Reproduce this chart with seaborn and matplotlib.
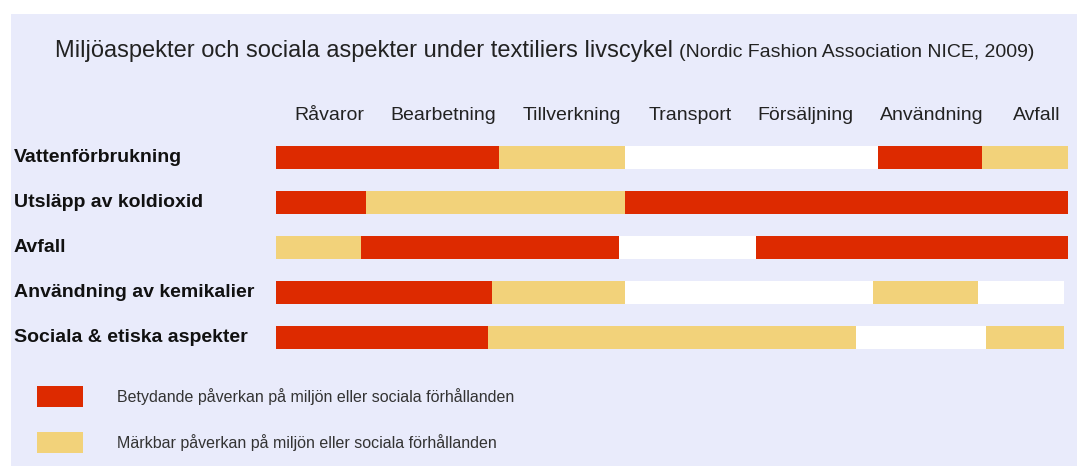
import matplotlib
matplotlib.use("Agg")
import matplotlib.pyplot as plt
from matplotlib.patches import Patch, Rectangle
import matplotlib.transforms as mtransforms
import pandas as pd
import seaborn as sns

# ---------------- data ----------------
categories = ["Vattenförbrukning", "Utsläpp av koldioxid", "Avfall",
              "Användning av kemikalier", "Sociala & etiska aspekter"]
stages = ["Råvaror", "Bearbetning", "Tillverkning", "Transport",
          "Försäljning", "Användning", "Avfall"]
# position of each stage label along the life cycle (0-100 %)
stage_pos = [6.8, 21.1, 37.4, 52.3, 66.8, 82.8, 96.0]

# segment end points (% of life cycle) and impact level per segment
water_ends = [28.2, 44.1, 76.0, 89.1, 100.0]
water_kinds = ["B", "M", "N", "B", "M"]
co2_ends = [11.4, 44.1, 100.0]
co2_kinds = ["B", "M", "B"]
waste_ends = [10.7, 43.3, 60.6, 100.0]
waste_kinds = ["M", "B", "N", "B"]
chem_ends = [27.3, 44.1, 75.4, 88.6, 99.5]
chem_kinds = ["B", "M", "N", "M", "N"]
social_ends = [26.8, 73.2, 89.6, 99.5]
social_kinds = ["B", "M", "N", "M"]

legend_labels = ["Betydande påverkan på miljön eller sociala förhållanden",
                 "Märkbar påverkan på miljön eller sociala förhållanden"]

title_main = "Miljöaspekter och sociala aspekter under textiliers livscykel"
title_src = "(Nordic Fashion Association NICE, 2009)"

# ---------------- style ----------------
RED = "#dd2a00"
YEL = "#f2d27a"
WHITE = "#ffffff"
PANEL = "#e9ebfb"
palette = {"B": RED, "M": YEL, "N": WHITE}

sns.set_theme(style="white")
plt.rcParams["font.family"] = ["Liberation Sans", "DejaVu Sans"]

W, H = 1077, 466
fig = plt.figure(figsize=(W / 100, H / 100), dpi=100, facecolor="white")
fig.patches.append(Rectangle((11 / W, 0), 1 - 11 / W, 1 - 14 / H,
                             transform=fig.transFigure, facecolor=PANEL,
                             edgecolor="none", zorder=-10))

ax = fig.add_axes([276 / W, 1 - 360 / H, 792 / W, 225 / H])
ax.set_facecolor("none")

rows = list(zip(categories,
                [water_ends, co2_ends, waste_ends, chem_ends, social_ends],
                [water_kinds, co2_kinds, waste_kinds, chem_kinds, social_kinds]))
records = []
for cat, ends, kinds in rows:
    for i, (e, k) in enumerate(zip(ends, kinds)):
        records.append({"category": cat, "layer": i, "end": e, "kind": k})
df = pd.DataFrame(records)

# draw cumulative layers from outermost to innermost -> stacked segments
for layer in sorted(df["layer"].unique(), reverse=True):
    sub = df[df["layer"] == layer]
    sns.barplot(data=sub, x="end", y="category", hue="kind", order=categories,
                hue_order=["B", "M", "N"], palette=palette, orient="h",
                dodge=False, width=0.5, saturation=1, errorbar=None,
                legend=False, linewidth=0, ax=ax)

ax.set_xlim(0, 100)
ax.set_ylim(len(categories) - 0.5, -0.5)
for s in ax.spines.values():
    s.set_visible(False)
ax.set_xlabel("")
ax.set_ylabel("")

# stage labels on top
ax.xaxis.tick_top()
ax.set_xticks(stage_pos)
ax.set_xticklabels(stages, fontsize=14, color="#222222")
ax.tick_params(axis="x", length=0, pad=11)
for lab in ax.get_xticklabels():
    lab.set_va("baseline")

# row labels, left aligned
ax.set_yticks([])
trans = mtransforms.blended_transform_factory(fig.transFigure, ax.transData)
for i, cat in enumerate(categories):
    ax.text(14 / W, i, cat, transform=trans, ha="left", va="center",
            fontsize=14, fontweight="bold", color="#111111")

# title
t1 = fig.text(55 / W, 1 - 57 / H, title_main, fontsize=17, color="#222222",
              ha="left", va="baseline")
fig.canvas.draw()
bb = t1.get_window_extent(fig.canvas.get_renderer())
fig.text((bb.x1 + 6) / W, 1 - 57 / H, title_src, fontsize=14,
         color="#222222", ha="left", va="baseline")

# legend
handles = [Patch(facecolor=RED, edgecolor="none"),
           Patch(facecolor=YEL, edgecolor="none")]
fig.legend(handles, legend_labels, loc="upper left",
           bbox_to_anchor=(37 / W, 1 - 386 / H), frameon=False,
           fontsize=11.5, handlelength=2.87, handleheight=1.63,
           handletextpad=2.15, labelspacing=1.6, borderpad=0,
           borderaxespad=0, labelcolor="#333333")

fig.savefig("out.png", dpi=100, facecolor="white")
